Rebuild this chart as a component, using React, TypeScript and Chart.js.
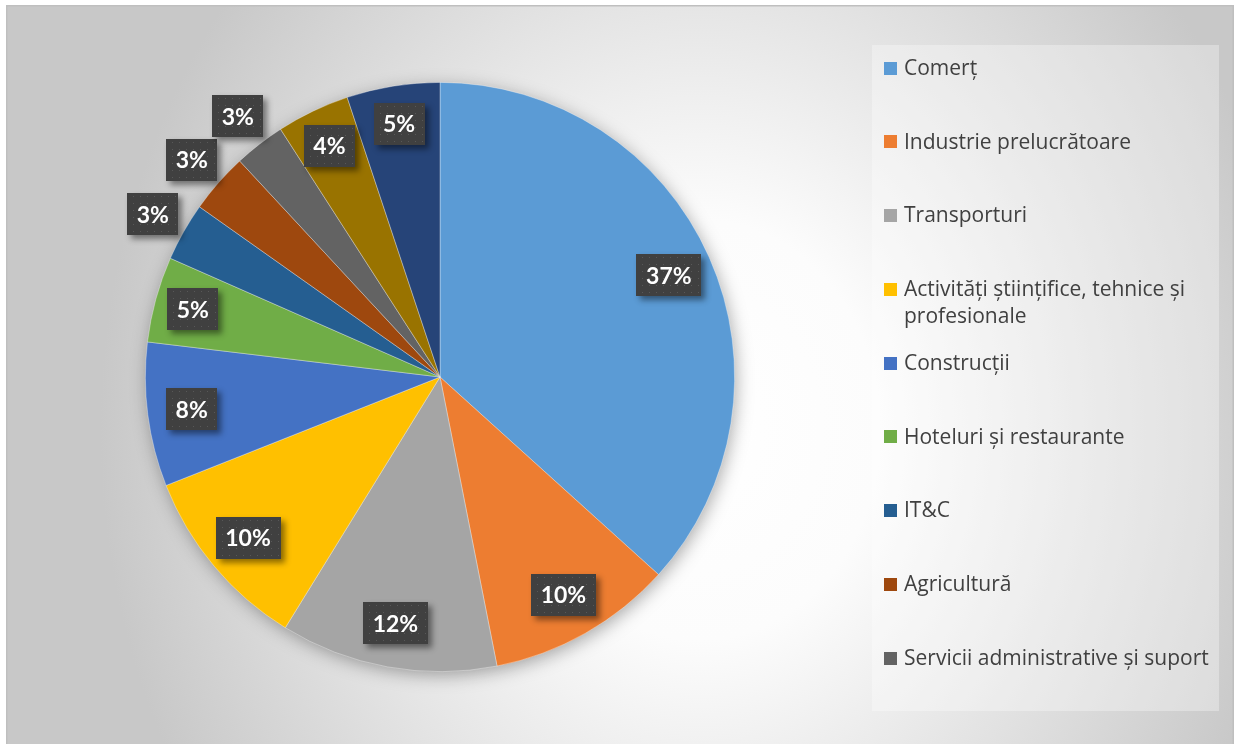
import React, { useEffect, useRef } from 'react';
import { Chart, registerables } from 'chart.js';

Chart.register(...registerables);

const categories = [
  'Comerț',
  'Industrie prelucrătoare',
  'Transporturi',
  'Activități științifice, tehnice și profesionale',
  'Construcții',
  'Hoteluri și restaurante',
  'IT&C',
  'Agricultură',
  'Servicii administrative și suport',
  'Sănătate',
  'Alte activități',
];
const shares = [36.7, 10.2, 11.9, 10.2, 7.9, 4.7, 3.2, 3.3, 2.8, 4.0, 5.1];
const shareLabels = ['37%', '10%', '12%', '10%', '8%', '5%', '3%', '3%', '3%', '4%', '5%'];
const sliceColors = [
  '#5B9BD5', '#ED7D31', '#A5A5A5', '#FFC000', '#4472C4', '#70AD47',
  '#255E91', '#9E480E', '#636363', '#997300', '#264478',
];
const legendEntryCount = 9;

const W = 1236;
const H = 744;

const backgroundPlugin = {
  id: 'frameBackground',
  beforeDraw(chart: any) {
    const ctx = chart.ctx as CanvasRenderingContext2D;
    ctx.save();
    ctx.fillStyle = '#ffffff';
    ctx.fillRect(0, 0, chart.width, chart.height);
    ctx.save();
    ctx.beginPath();
    ctx.rect(7, 6, 1226, 740);
    ctx.clip();
    ctx.translate(700, 430);
    ctx.scale(1, 700 / 600);
    const g = ctx.createRadialGradient(0, 0, 0, 0, 0, 600);
    g.addColorStop(0, '#ffffff');
    g.addColorStop(0.3, '#fcfcfc');
    g.addColorStop(1, '#c8c8c8');
    ctx.fillStyle = g;
    ctx.fillRect(-2000, -2000, 4000, 4000);
    ctx.restore();
    ctx.strokeStyle = '#bfbfbf';
    ctx.lineWidth = 1.5;
    ctx.strokeRect(6.75, 5.75, 1226.5, 760);
    // legend panel
    ctx.fillStyle = 'rgba(255,255,255,0.32)';
    ctx.fillRect(872, 45, 347, 666);
    ctx.restore();
  },
  beforeDatasetsDraw(chart: any) {
    const meta = chart.getDatasetMeta(0);
    const el = meta.data[0];
    if (!el) return;
    const { x, y, outerRadius } = el.getProps(['x', 'y', 'outerRadius'], true);
    const ctx = chart.ctx as CanvasRenderingContext2D;
    ctx.save();
    ctx.shadowColor = 'rgba(0,0,0,0.35)';
    ctx.shadowBlur = 18;
    ctx.shadowOffsetX = 2;
    ctx.shadowOffsetY = 4;
    ctx.fillStyle = '#a0a0a0';
    ctx.beginPath();
    ctx.arc(x, y, outerRadius - 1, 0, Math.PI * 2);
    ctx.fill();
    ctx.restore();
  },
  afterDatasetsDraw(chart: any) {
    const ctx = chart.ctx as CanvasRenderingContext2D;
    const meta = chart.getDatasetMeta(0);
    const values = chart.data.datasets[0].data as number[];
    ctx.save();
    ctx.font = 'bold 23px Lato';
    ctx.textAlign = 'center';
    ctx.textBaseline = 'middle';
    meta.data.forEach((el: any, i: number) => {
      const { x, y, startAngle, endAngle, outerRadius } = el.getProps(
        ['x', 'y', 'startAngle', 'endAngle', 'outerRadius'],
        true
      );
      const mid = (startAngle + endAngle) / 2;
      const f = values[i] < 3.5 ? 1.12 : values[i] < 6 ? 0.87 : 0.85;
      const cx = x + Math.cos(mid) * outerRadius * f;
      const cy = y + Math.sin(mid) * outerRadius * f;
      const text = shareLabels[i];
      const tw = ctx.measureText(text).width;
      const bw = Math.round(tw + 19);
      const bh = 42;
      const bx = Math.round(cx - bw / 2);
      const by = Math.round(cy - bh / 2);
      ctx.save();
      ctx.shadowColor = 'rgba(0,0,0,0.45)';
      ctx.shadowBlur = 6;
      ctx.shadowOffsetX = 4;
      ctx.shadowOffsetY = 4;
      ctx.fillStyle = '#404040';
      ctx.fillRect(bx, by, bw, bh);
      ctx.restore();
      ctx.fillStyle = 'rgba(255,255,255,0.13)';
      for (let dy = 3; dy < bh; dy += 7) {
        for (let dx = 3 + ((dy / 7) % 2 ? 3 : 0); dx < bw; dx += 7) {
          ctx.fillRect(bx + dx, by + dy, 1, 1);
        }
      }
      ctx.fillStyle = '#ffffff';
      ctx.fillText(text, cx, cy + 1);
    });
    ctx.restore();
  },
  afterDraw(chart: any) {
    const ctx = chart.ctx as CanvasRenderingContext2D;
    const labels = chart.data.labels as string[];
    const colors = chart.data.datasets[0].backgroundColor as string[];
    ctx.save();
    ctx.font = '21px "Open Sans"';
    ctx.textBaseline = 'middle';
    ctx.textAlign = 'left';
    const maxW = 312;
    for (let i = 0; i < legendEntryCount; i++) {
      const y0 = 68 + i * 73.75;
      const words = labels[i].split(' ');
      const lines: string[] = [];
      let cur = '';
      words.forEach((w) => {
        const t = cur ? cur + ' ' + w : w;
        if (ctx.measureText(t).width > maxW && cur) {
          lines.push(cur);
          cur = w;
        } else cur = t;
      });
      if (cur) lines.push(cur);
      ctx.fillStyle = colors[i];
      ctx.fillRect(884, Math.round(y0 - 6.5), 13, 13);
      ctx.fillStyle = '#404040';
      lines.forEach((ln, k) => ctx.fillText(ln, 904, y0 + 1 + k * 27));
    }
    ctx.restore();
  },
};

export default function App() {
  const ref = useRef<HTMLCanvasElement | null>(null);
  useEffect(() => {
    if (!ref.current) return;
    const chart = new Chart(ref.current, {
      type: 'pie',
      data: {
        labels: categories,
        datasets: [
          {
            data: shares,
            backgroundColor: sliceColors,
            borderColor: 'rgba(255,255,255,0.45)',
            borderWidth: 0.75,
          },
        ],
      },
      options: {
        responsive: false,
        animation: false,
        devicePixelRatio: 1,
        layout: { padding: { left: 145, right: 501, top: 82, bottom: 72 } },
        plugins: {
          legend: { display: false },
          tooltip: { enabled: false },
        },
      },
      plugins: [backgroundPlugin],
    });
    return () => chart.destroy();
  }, []);
  return (
    <div style={{ position: 'fixed', left: 0, top: 0, width: W, height: H }}>
      <canvas ref={ref} width={W} height={H} style={{ display: 'block' }} />
    </div>
  );
}
